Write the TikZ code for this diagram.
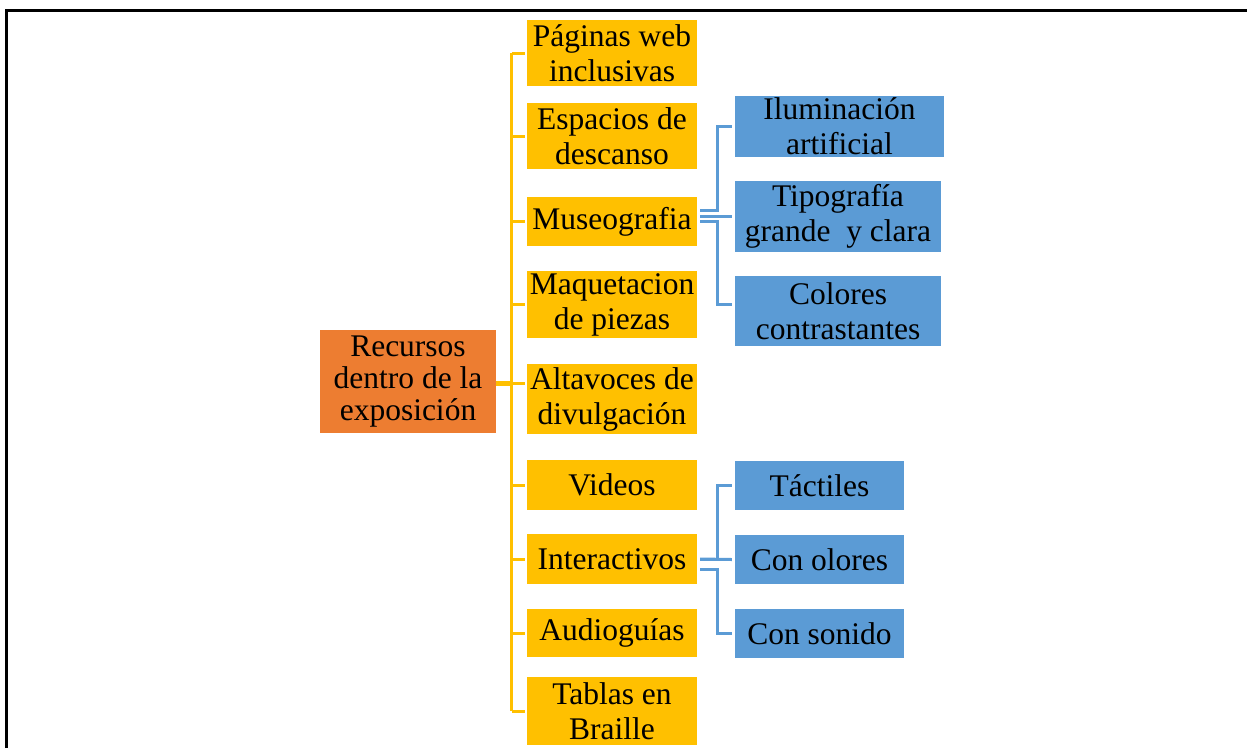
\documentclass[tikz,border=0pt]{standalone}
\usepackage{fontspec}
\setmainfont{Liberation Serif}
\definecolor{orgc}{HTML}{ED7D31}
\definecolor{ylwc}{HTML}{FFC000}
\definecolor{bluc}{HTML}{5B9BD5}
\begin{document}
\begin{tikzpicture}[x=1pt,y=-1pt,
  bx/.style={inner sep=0pt, align=center, font=\fontsize{31.5}{35}\selectfont, text=black},
  rootbox/.style={bx, font=\fontsize{31.5}{32}\selectfont, fill=orgc, minimum width=176pt, minimum height=103pt},
  ybox/.style={bx, fill=ylwc, minimum width=170pt},
  bbox/.style={bx, fill=bluc},
  yl/.style={draw=ylwc, line width=3pt},
  bl/.style={draw=bluc, line width=3pt}]
\useasboundingbox (0,0) rectangle (1247,748);
\fill[white] (0,0) rectangle (1247,748);
\draw[line width=2.5pt, black] (6.5,748) -- (6.5,10.5) -- (1247,10.5);

\node[rootbox] (root) at (408,381.5) {Recursos\\dentro de la\\exposición};

\node[ybox, minimum height=66pt] (y1) at (612,53) {Páginas web\\inclusivas};
\node[ybox, minimum height=66pt] (y2) at (612,136) {Espacios de\\descanso};
\node[ybox, minimum height=49pt] (y3) at (612,221.5) {Museografia};
\node[ybox, minimum height=67pt] (y4) at (612,304.5) {Maquetacion\\de piezas};
\node[ybox, minimum height=70pt] (y5) at (612,399) {Altavoces de\\divulgación};
\node[ybox, minimum height=50pt] (y6) at (612,485) {Videos};
\node[ybox, minimum height=50pt] (y7) at (612,559) {Interactivos};
\node[ybox, minimum height=48pt] (y8) at (612,633) {Audioguías};
\node[ybox, minimum height=68pt] (y9) at (612,711) {Tablas en\\Braille};

\node[bbox, minimum width=209pt, minimum height=61pt] (b1) at (839.5,126.5) {Iluminación\\artificial};
\node[bbox, minimum width=206pt, minimum height=71pt] (b2) at (838,216.5) {Tipografía\\grande\ \ y clara};
\node[bbox, minimum width=206pt, minimum height=70pt] (b3) at (838,311) {Colores\\contrastantes};
\node[bbox, minimum width=169pt, minimum height=49pt] (b4) at (819.5,485.5) {Táctiles};
\node[bbox, minimum width=169pt, minimum height=49pt] (b5) at (819.5,559.5) {Con olores};
\node[bbox, minimum width=169pt, minimum height=49pt] (b6) at (819.5,633.5) {Con sonido};

% yellow bus
\draw[yl] ([xshift=-15pt]y1.west) -- ([xshift=-15pt]y9.west);
\foreach \n in {y1,y2,y3,y4,y6,y7,y8,y9}
  \draw[yl] ([xshift=-15pt]\n.west) -- ([xshift=-2pt]\n.west);
\coordinate (bus) at ([xshift=-15pt]y1.west);
\draw[yl, line width=5pt] ([yshift=-1.5pt]root.east) -- ([yshift=-1.5pt]root.east -| bus);
\draw[yl] ([yshift=-1.5pt]root.east -| bus) -- ([yshift=-1.5pt,xshift=-2pt]root.east -| y5.west);

% Museografia children
\draw[bl] ([shift={(3pt,11pt)}]y3.east) -| ([xshift=-17pt]b1.west) -- ([xshift=-3pt]b1.west);
\draw[bl] ([xshift=3pt]y3.east |- b2.west) -- ([xshift=-3pt]b2.west);
\draw[bl] ([shift={(3pt,0pt)}]y3.east) -| ([shift={(-17pt,7pt)}]b3.west) -- ([shift={(-3pt,7pt)}]b3.west);

% Interactivos children
\draw[bl] ([xshift=3pt]y7.east) -| ([xshift=-17pt]b4.west) -- ([xshift=-3pt]b4.west);
\draw[bl] ([xshift=3pt]y7.east) -- ([xshift=-3pt]b5.west);
\draw[bl] ([shift={(3pt,-10pt)}]y7.east) -| ([xshift=-17pt]b6.west) -- ([xshift=-3pt]b6.west);
\end{tikzpicture}
\end{document}
